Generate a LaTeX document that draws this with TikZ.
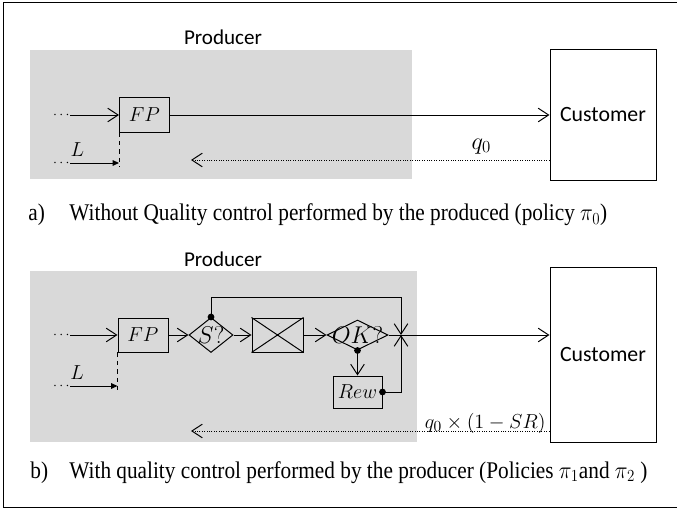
\documentclass[tikz,border=0pt]{standalone}
\usepackage{fontspec}
\setmainfont{Liberation Serif}
\newfontfamily\calibri{Carlito}
\usetikzlibrary{shapes.geometric,arrows.meta}
\definecolor{panelGray}{RGB}{217,217,217}

\begin{document}
\begin{tikzpicture}[x=0.025cm, y=-0.025cm, line width=0.7pt]
    % Styles
    \tikzstyle{block} = [rectangle, draw, fill=panelGray, minimum width=1.25cm, minimum height=0.85cm, inner sep=0, font=\fontsize{15}{17}\selectfont]
    \tikzstyle{decision} = [diamond, draw, fill=panelGray, inner sep=0]
    \tikzstyle{party} = [rectangle, draw, fill=white, minimum width=2.65cm, font=\calibri\fontsize{15.5}{18}\selectfont]
    \tikzstyle{title} = [font=\calibri\fontsize{15}{18}\selectfont]
    \tikzstyle{mathlabel} = [inner sep=0, font=\fontsize{15}{17}\selectfont]
    \tikzstyle{caption} = [anchor=base west, inner sep=0, xscale=0.89, transform shape, font=\fontsize{17}{20}\selectfont]
    \tikzstyle{lead} = [anchor=east, inner sep=0, font=\fontsize{10}{12}\selectfont]
    \tikzstyle{flow} = [-{Straight Barb[length=2.6mm, width=3.4mm]}]
    \tikzstyle{lag} = [-{Triangle[length=1.6mm, width=1.4mm]}]
    \tikzstyle{back} = [densely dotted, -{Straight Barb[length=2.6mm, width=3.4mm]}]

    \useasboundingbox (0,0) rectangle (677,510);
    \draw (677,2) -- (3,2) -- (3,507) -- (677,507);

    % a) without quality control
    \fill[panelGray] (30,50) rectangle (412,179);
    \node[title] (proda) at (223,37) {Producer};
    \node[block] (fpa) at (144.5,115) {$FP$};
    \node[party, minimum height=3.25cm] (custa) at (603,115) {Customer};
    \coordinate (ina) at (70,115);
    \node[lead] (dotsa) at (ina) {$\cdots$};
    \draw[flow] (ina) -- (fpa);
    \draw[flow] (fpa) -- (custa);
    \draw[dashed] (fpa.south west) -- ++(0,35);
    \coordinate (lina) at (70,163);
    \node[lead] (ldotsa) at (lina) {$\cdots$};
    \draw[lag] (lina) -- (fpa.south west |- lina) node[mathlabel, pos=0.15, above=4pt] {$L$};
    \coordinate (reta) at (191,160);
    \draw[back] (custa.west |- reta) -- (reta) node[mathlabel, pos=0.19, above=4pt, font=\fontsize{18}{20}\selectfont] {$q_0$};
    \node[caption] (capa) at (28,221) {a)};
    \node[caption] (texta) at (69,221) {Without Quality control performed by the produced (policy $\pi_0$)};

    % b) with quality control
    \fill[panelGray] (30,271) rectangle (417,442);
    \node[title] (prodb) at (223,259) {Producer};
    \node[block] (fpb) at (143,335) {$FP$};
    \node[decision, minimum width=1.1cm, minimum height=0.875cm] (sq) at (211,335) {};
    \node[mathlabel, font=\fontsize{17}{19}\selectfont] at (sq) {$S?$};
    \node[block, minimum width=1.275cm] (insp) at (277.5,335) {};
    \draw (insp.north west) -- (insp.south east) (insp.south west) -- (insp.north east);
    \node[decision, minimum width=1.525cm, minimum height=0.75cm] (ok) at (357.5,335) {};
    \node[mathlabel, font=\fontsize{18}{20}\selectfont] at (ok) {$OK?$};
    \node[block, minimum width=1.225cm, minimum height=0.8cm] (rew) at (357.5,392) {$Rew$};
    \coordinate (jn) at (401,335);
    \node[party, minimum height=4.35cm] (custb) at (603,355) {Customer};
    \coordinate (inb) at (70,335);
    \node[lead] (dotsb) at (inb) {$\cdots$};
    \draw[flow] (inb) -- (fpb);
    \draw[flow] (fpb) -- (sq);
    \draw[flow] (sq) -- (insp);
    \draw[flow] (insp) -- (ok);
    \draw (ok) -- (jn);
    \draw[flow] (jn) -- (jn -| custb.west);
    \draw[flow] (sq.north) -- ++(0,-20) -| (jn);
    \draw[flow] (ok.south) -- (rew);
    \draw[flow] (rew.east) -| (jn);
    \fill (sq.north) circle (2.4pt);
    \fill (ok.south) circle (2.4pt);
    \fill (rew.east) circle (2.4pt);
    \draw[dashed] (fpb.south west) -- ++(0,40);
    \coordinate (linb) at (70,386);
    \node[lead] (ldotsb) at (linb) {$\cdots$};
    \draw[lag] (linb) -- (fpb.south west |- linb) node[mathlabel, pos=0.15, above=4pt] {$L$};
    \coordinate (retb) at (191,431);
    \draw[back] (custb.west |- retb) -- (retb);
    \node[mathlabel, anchor=base east] (lossb) at (546,428) {$q_0\times(1-SR)$};
    \node[caption] (capb) at (30,478) {b)};
    \node[caption] (textb) at (69,478) {With quality control performed by the producer (Policies $\pi_1$and $\pi_2$ )};
\end{tikzpicture}
\end{document}
